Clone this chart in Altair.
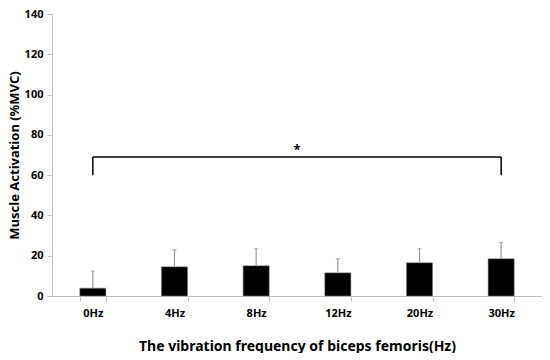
import altair as alt
import pandas as pd

categories = ["0Hz", "4Hz", "8Hz", "12Hz", "20Hz", "30Hz"]
means = [3.9, 14.5, 15.0, 11.5, 16.5, 18.5]
sds = [8.4, 8.5, 8.5, 7.0, 7.0, 8.0]
y_ticks = [0, 20, 40, 60, 80, 100, 120, 140]
bracket_from = "0Hz"
bracket_to = "30Hz"
bracket_top = 69
bracket_bottom = 60
star_label = "*"
star_y = 72.5

df = pd.DataFrame({"cat": categories, "mean": means, "sd": sds})
df["top"] = df["mean"] + df["sd"]

FONT = "Noto Sans"
x_scale = alt.Scale(domain=categories, paddingInner=0.68, paddingOuter=0.34)
y_scale = alt.Scale(domain=[0, 140])
x_enc = alt.X("cat:N", scale=x_scale, title="The vibration frequency of biceps femoris(Hz)",
              axis=alt.Axis(labelAngle=0, tickBand="extent", domainColor="#bfbfbf", tickColor="#bfbfbf",
                            tickSize=5, labelFont=FONT, labelFontWeight="bold", labelFontSize=11,
                            labelColor="#000", labelPadding=6, titleFont=FONT, titleFontSize=14,
                            titleFontWeight="bold", titlePadding=21, titleColor="#000"))
y_enc = alt.Y("mean:Q", scale=y_scale, title="Muscle Activation (%MVC)",
              axis=alt.Axis(values=y_ticks, grid=False, domainColor="#bfbfbf",
                            tickColor="#bfbfbf", tickSize=5, labelFont=FONT, labelFontWeight="bold",
                            labelFontSize=11, labelColor="#000", labelPadding=4, labelOverlap=False,
                            titleFont=FONT, titleFontSize=13, titleFontWeight="bold",
                            titlePadding=3, titleColor="#000"))

bars = alt.Chart(df).mark_bar(color="black", stroke="#888", strokeWidth=0.5).encode(x=x_enc, y=y_enc)

x_plain = alt.X("cat:N", scale=x_scale)
err = alt.Chart(df).mark_rule(color="#999", strokeWidth=1.2).encode(
    x=x_plain, y=alt.Y("mean:Q", scale=y_scale), y2="top:Q")
caps = alt.Chart(df).mark_tick(color="#999", thickness=1.2, size=4).encode(
    x=x_plain, y=alt.Y("top:Q", scale=y_scale))

bdf = pd.DataFrame({"x": [bracket_from], "x2": [bracket_to], "y": [bracket_top]})
hline = alt.Chart(bdf).mark_rule(color="black", strokeWidth=1.5).encode(
    x=alt.X("x:N", scale=x_scale), x2="x2:N", y=alt.Y("y:Q", scale=y_scale))
vdf = pd.DataFrame({"x": [bracket_from, bracket_to], "y": [bracket_bottom] * 2, "y2": [bracket_top] * 2})
vlines = alt.Chart(vdf).mark_rule(color="black", strokeWidth=1.5).encode(
    x=alt.X("x:N", scale=x_scale), y=alt.Y("y:Q", scale=y_scale), y2="y2:Q")

sdf = pd.DataFrame({"y": [star_y], "t": [star_label]})
star = alt.Chart(sdf).mark_text(
    fontSize=13, fontWeight="bold", font=FONT, baseline="middle").encode(
    x=alt.value(245), y=alt.Y("y:Q", scale=y_scale), text="t:N")

chart = alt.layer(bars, err, caps, hline, vlines, star).properties(
    width=490, height=282,
    padding={"left": 0, "top": 0, "right": 0, "bottom": 0},
).configure(background="white").configure_view(stroke=None)

chart.save("out.html", embed_options={"renderer": "svg", "actions": False})
